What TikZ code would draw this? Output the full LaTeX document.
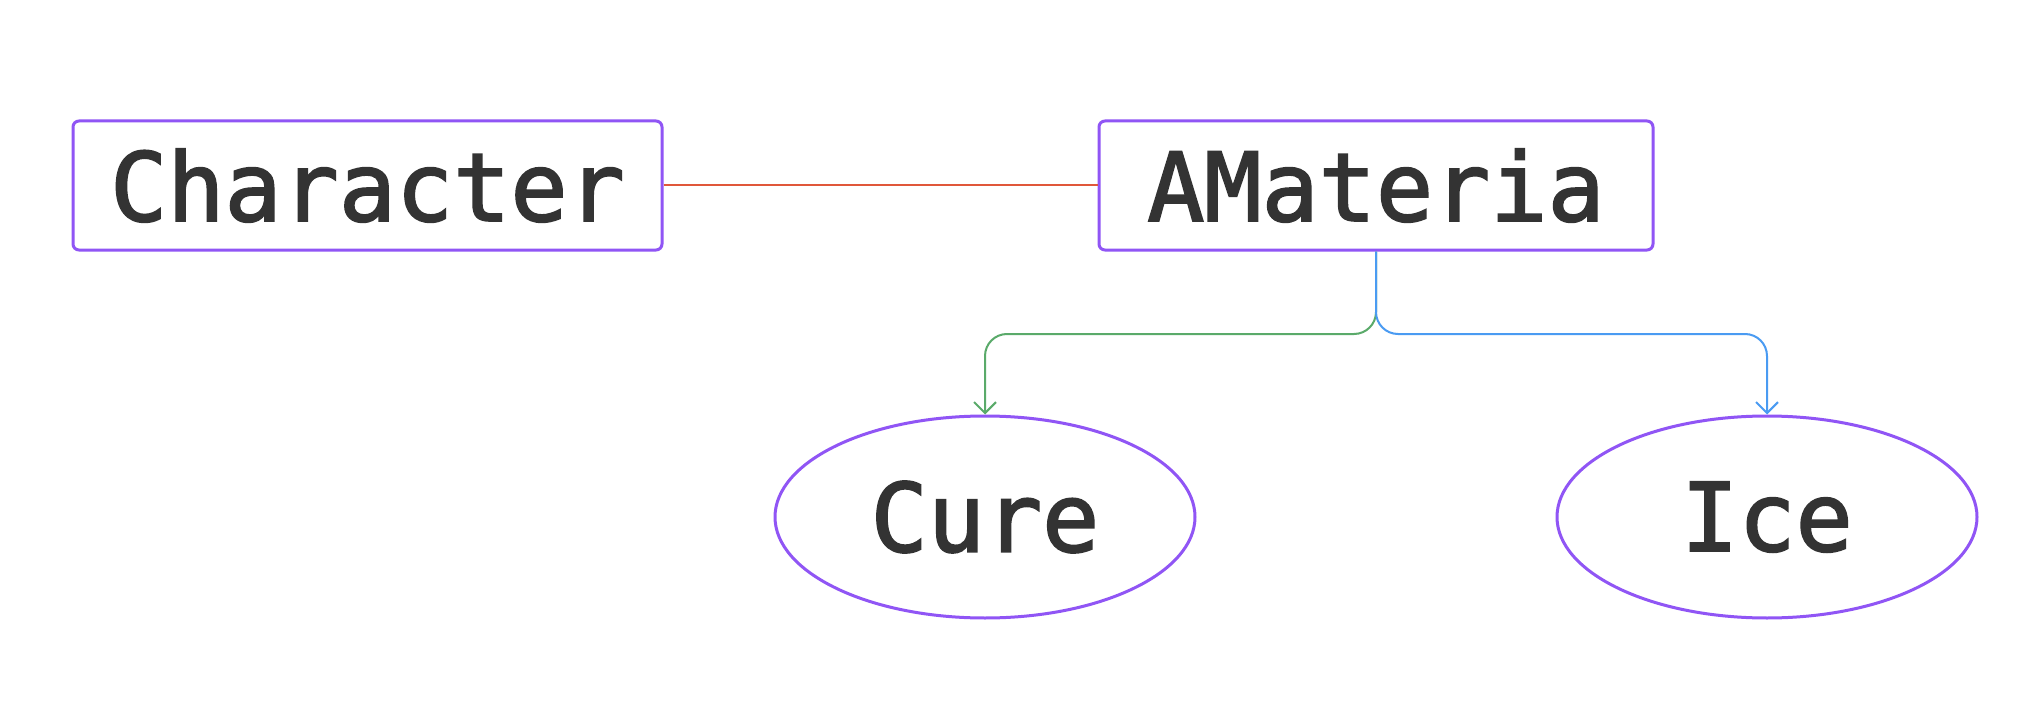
\documentclass[tikz,border=0pt]{standalone}
\usepackage{fontspec}
\newfontfamily\diagmono[FakeBold=2]{DejaVu Sans Mono}
\usetikzlibrary{shapes.geometric,arrows.meta}
\definecolor{nodepurple}{HTML}{9055F5}
\definecolor{linkred}{HTML}{E0573A}
\definecolor{linkgreen}{HTML}{5AAA6A}
\definecolor{linkblue}{HTML}{4A9BF2}
\definecolor{textgray}{HTML}{333333}
\tikzset{
  classbox/.style={draw=nodepurple, line width=1.5pt, rounded corners=3pt, fill=white,
    minimum height=64.5pt, inner sep=0pt, text=textgray,
    font=\diagmono\fontsize{47.5}{57}\selectfont},
  leafnode/.style={ellipse, draw=nodepurple, line width=1.5pt, fill=white,
    minimum width=210pt, minimum height=101pt, inner sep=0pt, text=textgray,
    font=\diagmono\fontsize{47.5}{57}\selectfont},
  plainlink/.style={draw=linkred, line width=1pt},
  arrowlink/.style={line width=1pt, rounded corners=11pt,
    -{Straight Barb[length=5.5pt,width=11pt,line width=1pt]}},
}
\begin{document}
\begin{tikzpicture}[x=0.5pt,y=-0.5pt]
  \path[use as bounding box, fill=white] (0,0) rectangle (2026,706);
  \node[classbox, minimum width=294.5pt] (char) at (367.5,185.5) {Character};
  \node[classbox, minimum width=277pt] (amat) at (1376,185.5) {AMateria};
  \node[leafnode] (cure) at (985,517) {Cure};
  \node[leafnode] (ice) at (1767,517) {Ice};
  \coordinate (bus) at (0,334);
  \draw[plainlink] (char.east) -- (amat.west);
  \draw[arrowlink, draw=linkgreen] (amat.south) |- (cure.north |- bus) -- (cure.north);
  \draw[arrowlink, draw=linkblue] (amat.south) |- (ice.north |- bus) -- (ice.north);
\end{tikzpicture}
\end{document}
